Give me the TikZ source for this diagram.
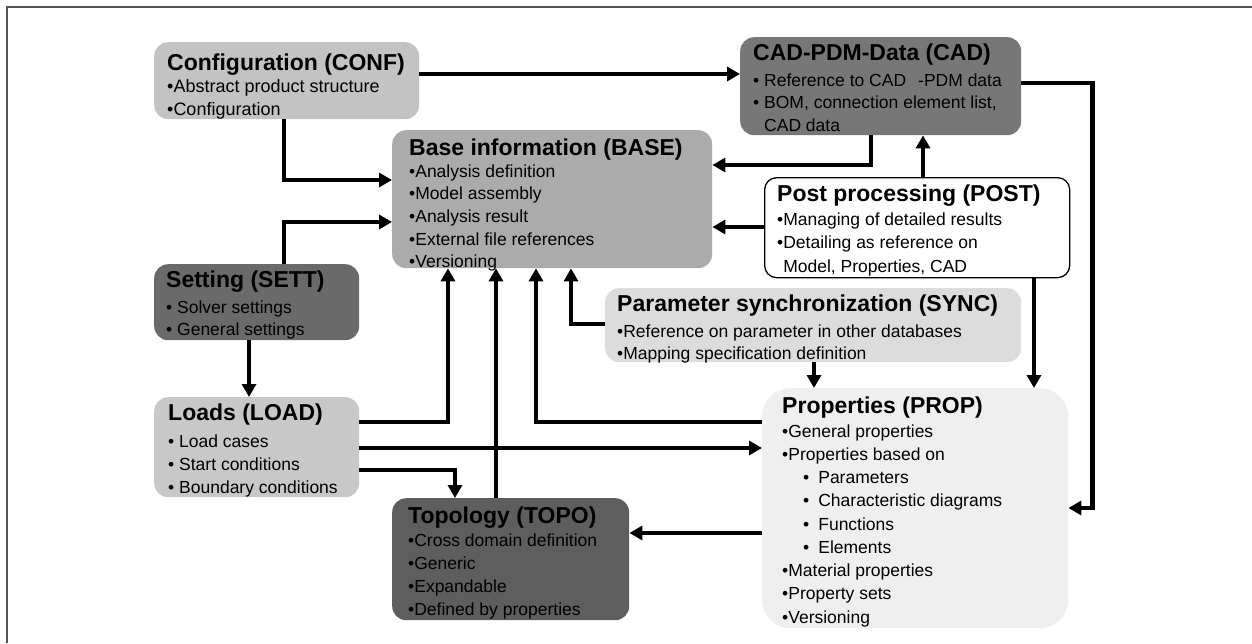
\documentclass[tikz,border=0pt]{standalone}
\usepackage{fontspec}
\setmainfont{Liberation Sans}
\usetikzlibrary{arrows.meta,calc}

% one title line and one item line of a panel
\newcommand\ttl[1]{\hbox{\fontsize{23}{23}\selectfont\bfseries #1}}
\newcommand\itmsize{17.5}
\newcommand\itm[1]{\hbox{\fontsize{\itmsize}{\itmsize}\selectfont #1}}
% #1 gap title->first item, #2 item spacing, #3 title, #4 items
\newcommand\paneltext[4]{\vtop{\baselineskip=#2pt\lineskiplimit=-100pt\lineskip=0pt\ttl{#3}\vskip\dimexpr#1pt-#2pt\relax#4}}

\definecolor{cConf}{HTML}{C3C3C3}
\definecolor{cCad}{HTML}{777777}
\definecolor{cBase}{HTML}{ABABAB}
\definecolor{cSett}{HTML}{6A6A6A}
\definecolor{cLoad}{HTML}{C8C8C8}
\definecolor{cTopo}{HTML}{5E5E5E}
\definecolor{cSync}{HTML}{DCDCDC}
\definecolor{cProp}{HTML}{EFEFEF}
\definecolor{cFrame}{HTML}{555555}

\begin{document}
\begin{tikzpicture}[x=1pt,y=-1pt,
  panel/.style={draw=none,rounded corners=14pt,inner sep=0pt,anchor=north west},
  txt/.style={anchor=base west,inner sep=0pt,align=left},
  flow/.style={line width=4.5pt,-{Triangle[length=13pt,width=14pt]}}]
\useasboundingbox (0,0) rectangle (1252,643);
\draw[cFrame,line width=1.2pt] (7,643) -- (7,7) -- (1252,7);

% panels
\node[panel,fill=cConf,minimum width=265pt,minimum height=77pt] (conf) at (154,42) {};
\node[panel,fill=cCad,minimum width=281pt,minimum height=98pt] (cad) at (740,37) {};
\node[panel,fill=cBase,minimum width=320pt,minimum height=138pt] (base) at (392,130) {};
\node[panel,fill=white,draw=black,line width=1.3pt,rounded corners=12pt,minimum width=305pt,minimum height=100pt] (post) at (764,177) {};
\node[panel,fill=cSett,minimum width=205pt,minimum height=76pt] (sett) at (154,264) {};
\node[panel,fill=cSync,minimum width=416pt,minimum height=74pt] (sync) at (605,288) {};
\node[panel,fill=cLoad,minimum width=205pt,minimum height=100pt] (load) at (154,397) {};
\node[panel,fill=cTopo,minimum width=237pt,minimum height=122pt] (topo) at (392,498) {};
\node[panel,fill=cProp,rounded corners=28pt,minimum width=306pt,minimum height=240pt] (prop) at (762,388) {};

% panel texts
\node[txt] (conf-t) at ($(conf.north west)+(13,28)$)
  {\renewcommand\itmsize{18}\paneltext{22}{23}{Configuration (CONF)}{\itm{•Abstract product structure}\itm{•Configuration}}};
\node[txt] (cad-t) at ($(cad.north west)+(13,23)$)
  {\paneltext{26}{22.5}{CAD-PDM-Data (CAD)}{\itm{• Reference to CAD\hspace{12pt}-PDM data}\itm{• BOM, connection element list,}\itm{\phantom{• }CAD data}}};
\node[txt] (base-t) at ($(base.north west)+(17,25)$)
  {\paneltext{22}{22.7}{Base information (BASE)}{\itm{•Analysis definition}\itm{•Model assembly}\itm{•Analysis result}\itm{•External file references}\itm{•Versioning}}};
\node[txt] (post-t) at ($(post.north west)+(13,24)$)
  {\paneltext{24}{23.5}{Post processing (POST)}{\itm{•Managing of detailed results}\itm{•Detailing as reference on}\itm{\phantom{•}Model, Properties, CAD}}};
\node[txt] (sett-t) at ($(sett.north west)+(12,23)$)
  {\paneltext{26}{22}{Setting (SETT)}{\itm{• Solver settings}\itm{• General settings}}};
\node[txt] (sync-t) at ($(sync.north west)+(12,23)$)
  {\paneltext{26}{22}{Parameter synchronization (SYNC)}{\itm{•Reference on parameter in other databases}\itm{•Mapping specification definition}}};
\node[txt] (load-t) at ($(load.north west)+(14,23)$)
  {\paneltext{27}{23}{Loads (LOAD)}{\itm{• Load cases}\itm{• Start conditions}\itm{• Boundary conditions}}};
\node[txt] (topo-t) at ($(topo.north west)+(16,25)$)
  {\paneltext{23}{23.3}{Topology (TOPO)}{\itm{•Cross domain definition}\itm{•Generic}\itm{•Expandable}\itm{•Defined by properties}}};
\node[txt] (prop-t) at ($(prop.north west)+(20,25)$)
  {\paneltext{24}{23.25}{Properties (PROP)}{\itm{•General properties}\itm{•Properties based on}%
   \itm{\hspace{21pt}•\hspace{9pt}Parameters}\itm{\hspace{21pt}•\hspace{9pt}Characteristic diagrams}%
   \itm{\hspace{21pt}•\hspace{9pt}Functions}\itm{\hspace{21pt}•\hspace{9pt}Elements}%
   \itm{•Material properties}\itm{•Property sets}\itm{•Versioning}}};

% connectors
\draw[flow] ($(conf.north east)+(0,32)$) -- ($(cad.north west)+(0,37)$);
\draw[flow] ($(conf.south west)+(130,0)$) |- ($(base.north west)+(0,50)$);
\draw[flow] ($(sett.north west)+(130,0)$) |- ($(base.north west)+(0,92)$);
\draw[flow] ($(sett.south west)+(95,0)$) -- ($(load.north west)+(95,0)$);
\draw[flow] ($(load.north east)+(0,25)$) -| ($(base.south west)+(56,0)$);
\draw[flow] ($(load.north east)+(0,51)$) -- ($(prop.north west)+(0,60)$);
\draw[flow] ($(load.north east)+(0,73)$) -| ($(topo.north west)+(63,0)$);
\draw[flow] ($(topo.north west)+(104,0)$) -- ($(base.south west)+(104,0)$);
\draw[flow] ($(prop.north west)+(0,34)$) -| ($(base.south west)+(144,0)$);
\draw[flow] ($(sync.north west)+(0,36)$) -| ($(base.south west)+(179,0)$);
\draw[flow] ($(sync.south west)+(209,0)$) -- ($(prop.north west)+(52,0)$);
\draw[flow] ($(prop.north west)+(0,145)$) -- ($(topo.north east)+(0,35)$);
\draw[flow] ($(post.south west)+(270,0)$) -- ($(prop.north west)+(272,0)$);
\coordinate (cadbend) at ($(prop.north east)+(24,120)$);
\draw[flow] ($(cad.north east)+(0,46)$) -| (cadbend) -- ($(prop.north east)+(0,120)$);
\draw[flow] ($(cad.south west)+(131,0)$) |- ($(base.north east)+(0,35)$);
\draw[flow] ($(post.north west)+(159,0)$) -- ($(cad.south west)+(183,0)$);
\draw[flow] ($(post.north west)+(0,50)$) -- ($(base.north east)+(0,97)$);
\end{tikzpicture}
\end{document}
